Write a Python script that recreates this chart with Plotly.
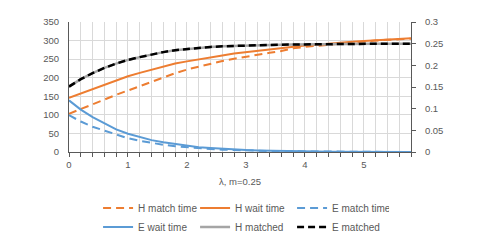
import plotly.graph_objects as go

lam = [round(i * 0.2, 1) for i in range(30)]

h_match_time = [103, 115, 128, 141, 154, 166, 178, 190, 201, 212, 222, 230, 238, 245, 251,
                257, 262, 267, 272, 279, 283, 286, 289, 292, 295, 298, 300, 302, 304, 305]
h_wait_time = [146, 158, 170, 182, 193, 204, 213, 222, 230, 238, 244, 250, 255, 260, 265,
               269, 273, 277, 280, 284, 287, 289, 292, 294, 297, 299, 301, 303, 304, 306]
e_match_time = [99, 82, 68, 57, 46, 37, 30, 24, 19.5, 15.5, 12.5, 10, 8, 6.3, 5,
                4, 3.2, 2.5, 2.0, 1.6, 1.3, 1.0, 0.8, 0.65, 0.5, 0.4, 0.32, 0.26, 0.2, 0.16]
e_wait_time = [139, 114, 94, 77, 61, 49, 40, 32, 26, 21, 17, 13, 11, 8.5, 6.8,
               5.4, 4.3, 3.4, 2.7, 2.1, 1.7, 1.3, 1.0, 0.8, 0.6, 0.5, 0.4, 0.3, 0.25, 0.2]
h_matched = [0.151, 0.168, 0.182, 0.194, 0.204, 0.2125, 0.219, 0.225, 0.2305, 0.235,
             0.238, 0.241, 0.2425, 0.244, 0.245, 0.246, 0.2468, 0.2473, 0.2477, 0.248,
             0.2485, 0.249, 0.249, 0.2493, 0.2495, 0.2497, 0.2498, 0.2499, 0.25, 0.25]
e_matched = list(h_matched)

ORANGE = "#ED7D31"
BLUE = "#5B9BD5"
GREY = "#A5A5A5"
BLACK = "#000000"
TXT = "#595959"
GRID = "#D9D9D9"
AX = "#595959"
FONT = "Liberation Sans"

fig = go.Figure()
fig.add_trace(go.Scatter(x=lam, y=h_match_time, name="H match time", mode="lines",
                         line=dict(color=ORANGE, width=2, dash="8px,5px")))
fig.add_trace(go.Scatter(x=lam, y=h_wait_time, name="H wait time", mode="lines",
                         line=dict(color=ORANGE, width=2)))
fig.add_trace(go.Scatter(x=lam, y=e_match_time, name="E match time", mode="lines",
                         line=dict(color=BLUE, width=2, dash="8px,5px")))
fig.add_trace(go.Scatter(x=lam, y=e_wait_time, name="E wait time", mode="lines",
                         line=dict(color=BLUE, width=2)))
fig.add_trace(go.Scatter(x=lam, y=h_matched, name="H matched", mode="lines", yaxis="y2",
                         line=dict(color=GREY, width=2.5)))
fig.add_trace(go.Scatter(x=lam, y=e_matched, name="E matched", mode="lines", yaxis="y2",
                         line=dict(color=BLACK, width=2.5, dash="7px,4px")))

fig.update_layout(
    width=488, height=252,
    margin=dict(l=61, r=85, t=14, b=108),
    paper_bgcolor="white", plot_bgcolor="white",
    font=dict(family=FONT, size=10, color=TXT),
    showlegend=True,
    legend=dict(orientation="h", x=0.085, xanchor="left", y=-0.32, yanchor="top",
                itemwidth=30, entrywidth=52, entrywidthmode="pixels",
                font=dict(family=FONT, size=10, color=TXT), tracegroupgap=0,
                bgcolor="rgba(0,0,0,0)"),
    xaxis=dict(range=[0, 5.8], dtick=1, tick0=0, showgrid=True, gridcolor=GRID, gridwidth=1,
               showline=True, linecolor=AX, linewidth=1, ticks="outside", ticklen=4,
               tickcolor=AX, zeroline=False, automargin=False,
               tickfont=dict(size=9.5, color=TXT),
               minor=dict(dtick=0.2, tick0=0, showgrid=True, gridcolor=GRID, gridwidth=1,
                          ticks="outside", ticklen=4, tickcolor=AX),
               title=dict(text="λ, m=0.25", standoff=8, font=dict(size=9.5, color=TXT))),
    yaxis=dict(range=[0, 350], dtick=50, showgrid=True, gridcolor=GRID, gridwidth=1,
               showline=True, linecolor=AX, linewidth=1, ticks="", zeroline=False,
               automargin=False,
               tickfont=dict(size=9.5, color=TXT), ticklabelstandoff=7),
    yaxis2=dict(range=[0, 0.3], dtick=0.05, overlaying="y", side="right", showgrid=False,
                showline=True, linecolor=AX, linewidth=1, ticks="outside", ticklen=4,
                tickcolor=AX, zeroline=False, automargin=False, ticklabelstandoff=7,
                tickfont=dict(size=9.5, color=TXT)),
)

fig.write_html("out.html")
